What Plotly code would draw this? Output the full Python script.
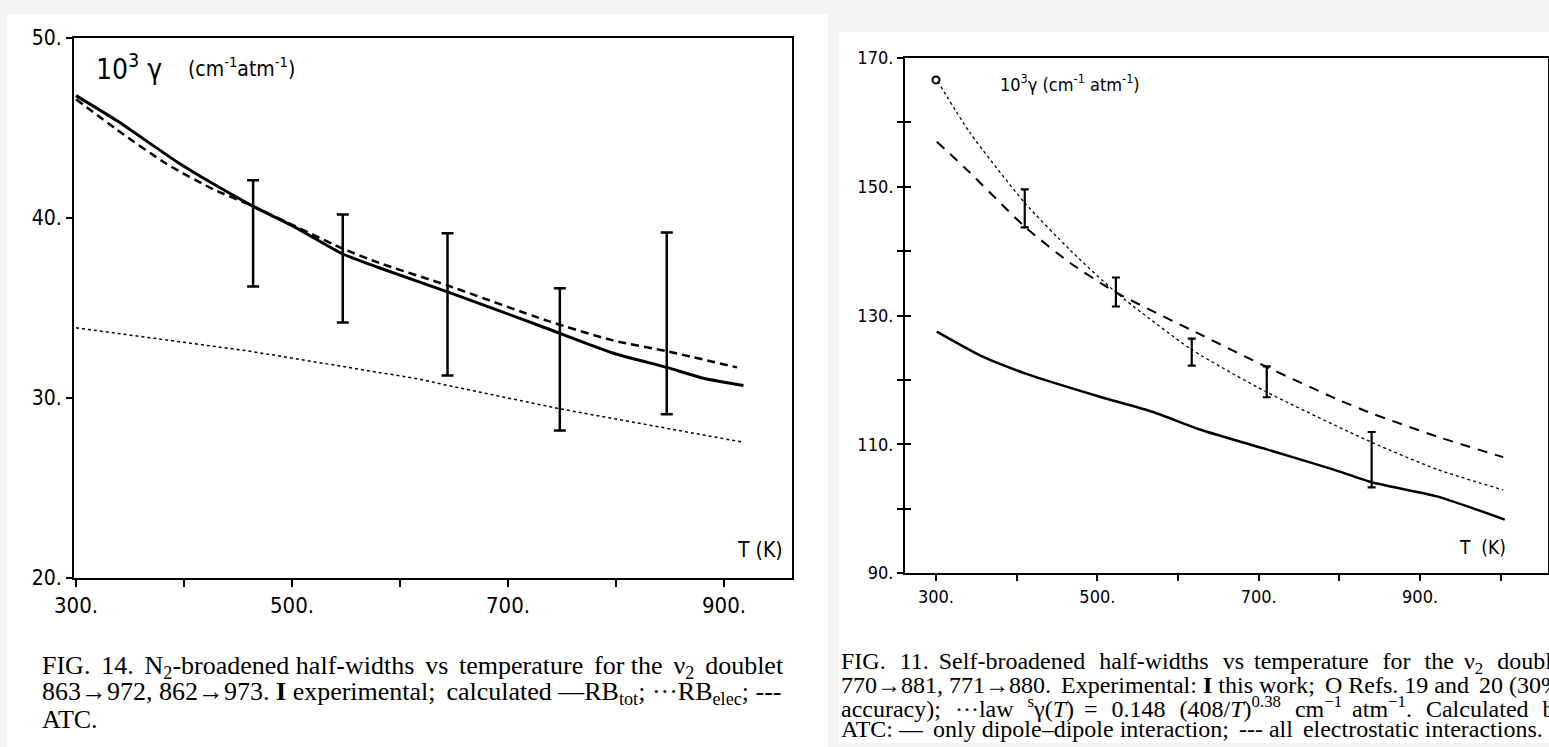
import plotly.graph_objects as go

W, H = 1549, 747

# ---------------- FIG. 14 : N2-broadened half-widths ----------------
t_rb_tot = [300, 338, 394, 427, 464, 501, 547, 580, 644, 730, 797, 847, 881, 918]
g_rb_tot = [46.8, 45.4, 43.1, 41.9, 40.65, 39.55, 38.0, 37.25, 35.9, 34.0, 32.5, 31.7, 31.1, 30.7]

t_atc14 = [300, 338, 384, 427, 464, 547, 581, 644, 736, 797, 847, 912]
g_atc14 = [46.6, 44.9, 43.0, 41.6, 40.65, 38.3, 37.5, 36.25, 34.3, 33.2, 32.6, 31.7]

t_rb_elec = [300, 461, 618, 644, 748, 847, 917]
g_rb_elec = [33.9, 32.6, 31.05, 30.7, 29.4, 28.3, 27.55]

t_exp14 = [464, 547, 644, 748, 847]
lo_exp14 = [36.2, 34.2, 31.25, 28.2, 29.1]
hi_exp14 = [42.1, 40.2, 39.15, 36.1, 39.2]

ticks14_x = [300, 400, 500, 600, 700, 800, 900]
labels14_x = ["300.", "", "500.", "", "700.", "", "900."]
ticks14_y = [20, 30, 40, 50]
labels14_y = ["20.", "30.", "40.", "50."]

# ---------------- FIG. 11 : self-broadened half-widths ----------------
t_dip = [301, 358, 413, 500, 569, 627, 710, 792, 840, 921, 1005]
g_dip = [127.5, 123.6, 120.9, 117.5, 115.0, 112.3, 109.2, 106.1, 104.1, 101.9, 98.3]

t_elst = [301, 342, 410, 466, 523, 627, 710, 797, 840, 921, 1003]
g_elst = [157.0, 152.2, 143.8, 138.2, 133.6, 127.1, 122.0, 117.0, 114.8, 111.2, 108.0]

t_law = [302, 342, 410, 466, 523, 617, 710, 840, 921, 1003]
g_law = [166.4, 158.4, 147.5, 140.2, 133.6, 124.7, 118.1, 110.3, 106.1, 102.9]

t_exp11 = [410, 523, 617, 710, 840]
lo_exp11 = [143.7, 131.4, 122.2, 117.3, 103.3]
hi_exp11 = [149.6, 135.9, 126.4, 122.1, 111.9]

t_ref = [300]
g_ref = [166.6]

ticks11_x = [300, 400, 500, 600, 700, 800, 900, 1000]
labels11_x = ["300.", "", "500.", "", "700.", "", "900.", ""]
ticks11_y = [90, 100, 110, 120, 130, 140, 150, 160, 170]
labels11_y = ["90.", "", "110.", "", "130.", "", "150.", "", "170."]
inner11_y = [100, 110, 120, 130, 140, 150, 160]

AX_FONT = "DejaVu Sans Condensed, DejaVu Sans, sans-serif"
CAP_FONT = "Liberation Serif, Times New Roman, serif"
SIXTH_EM = "\u2006"


def fx(p):
    return p / W


def fy(p):
    return 1 - p / H


def widen(text, units):
    """Spread `units` sixth-em spaces evenly over the word gaps (justified look)."""
    if not units:
        return text
    words = text.split(" ")
    gaps = len(words) - 1
    counts = [0] * gaps
    for j in range(units):
        counts[int((j + 0.5) * gaps / units) % gaps] += 1
    out = words[0]
    for g in range(gaps):
        out += " " + SIXTH_EM * counts[g] + words[g + 1]
    return out


def exp_bars(t, lo, hi, xa, ya, cap, thick):
    mid = [(a + b) / 2 for a, b in zip(lo, hi)]
    half = [(b - a) / 2 for a, b in zip(lo, hi)]
    return go.Scatter(
        x=t, y=mid, mode="markers", xaxis=xa, yaxis=ya,
        marker=dict(size=2, color="rgba(0,0,0,0)"),
        error_y=dict(type="data", array=half, symmetric=True,
                     color="black", thickness=thick, width=cap),
        showlegend=False, hoverinfo="skip",
    )


fig = go.Figure()

# FIG. 14 curves
fig.add_trace(go.Scatter(x=t_rb_elec, y=g_rb_elec, mode="lines", xaxis="x", yaxis="y",
                         line=dict(color="black", width=1.5, dash="dot"), showlegend=False))
fig.add_trace(go.Scatter(x=t_atc14, y=g_atc14, mode="lines", xaxis="x", yaxis="y",
                         line=dict(color="black", width=2.5, dash="8px,5px", shape="spline", smoothing=0.6),
                         showlegend=False))
fig.add_trace(go.Scatter(x=t_rb_tot, y=g_rb_tot, mode="lines", xaxis="x", yaxis="y",
                         line=dict(color="black", width=3, shape="spline", smoothing=0.6), showlegend=False))
fig.add_trace(exp_bars(t_exp14, lo_exp14, hi_exp14, "x", "y", 6, 2.5))

# FIG. 11 curves
fig.add_trace(go.Scatter(x=t_law, y=g_law, mode="lines", xaxis="x2", yaxis="y2",
                         line=dict(color="black", width=1.3, dash="dot", shape="spline", smoothing=0.6),
                         showlegend=False))
fig.add_trace(go.Scatter(x=t_elst, y=g_elst, mode="lines", xaxis="x2", yaxis="y2",
                         line=dict(color="black", width=2, dash="10px,8px", shape="spline", smoothing=0.6),
                         showlegend=False))
fig.add_trace(go.Scatter(x=t_dip, y=g_dip, mode="lines", xaxis="x2", yaxis="y2",
                         line=dict(color="black", width=2.5, shape="spline", smoothing=0.6), showlegend=False))
fig.add_trace(exp_bars(t_exp11, lo_exp11, hi_exp11, "x2", "y2", 4, 2.2))
fig.add_trace(go.Scatter(x=t_ref, y=g_ref, mode="markers", xaxis="x2", yaxis="y3",
                         marker=dict(symbol="circle-open", size=7, color="black", line=dict(width=2)),
                         showlegend=False))

line_common = dict(showline=True, linecolor="black", mirror=True, showgrid=False,
                   zeroline=False, tickcolor="black", tickmode="array", automargin=False)

fig.update_layout(
    width=W, height=H,
    margin=dict(l=0, r=0, t=0, b=0, autoexpand=False),
    paper_bgcolor="#f3f3f3",
    plot_bgcolor="white",
    xaxis=dict(domain=[fx(74), fx(792)], range=[298.15, 962.96], anchor="y",
               tickvals=ticks14_x, ticktext=labels14_x, ticks="outside", ticklen=7, tickwidth=2,
               linewidth=2, tickfont=dict(family=AX_FONT, size=22, color="black"), **line_common),
    yaxis=dict(domain=[fy(578), fy(38)], range=[20, 50], anchor="x",
               tickvals=ticks14_y, ticktext=labels14_y, ticks="outside", ticklen=6, tickwidth=2,
               linewidth=2, tickfont=dict(family=AX_FONT, size=21, color="black"), **line_common),
    xaxis2=dict(domain=[fx(905), fx(1548)], range=[261.6, 1058.6], anchor="y2",
                tickvals=ticks11_x, ticktext=labels11_x, ticks="outside", ticklen=6, tickwidth=2,
                linewidth=2, tickfont=dict(family=AX_FONT, size=18, color="black"), **line_common),
    yaxis2=dict(domain=[fy(573), fy(58)], range=[90, 170], anchor="x2",
                tickvals=ticks11_y, ticktext=labels11_y, ticks="outside", ticklen=6, tickwidth=2,
                linewidth=2, tickfont=dict(family=AX_FONT, size=18, color="black"), **line_common),
    yaxis3=dict(overlaying="y2", anchor="x2", range=[90, 170], tickmode="array",
                tickvals=inner11_y, ticks="inside", ticklen=6, tickwidth=2, tickcolor="black",
                showticklabels=False, showline=False, showgrid=False, zeroline=False, automargin=False),
    shapes=[
        dict(type="rect", xref="paper", yref="paper", x0=fx(7), x1=fx(828), y0=fy(747), y1=fy(14),
             fillcolor="white", line=dict(width=0), layer="below"),
        dict(type="rect", xref="paper", yref="paper", x0=fx(839), x1=fx(1549), y0=fy(743), y1=fy(32),
             fillcolor="white", line=dict(width=0), layer="below"),
    ],
)

annotations = [
    # axis titles, FIG. 14
    dict(x=fx(94), y=fy(67), text="10<sup>3</sup> γ",
         font=dict(family=AX_FONT, size=28, color="black")),
    dict(x=fx(186), y=fy(67), text="(cm<sup>-1</sup>atm<sup>-1</sup>)",
         font=dict(family=AX_FONT, size=21, color="black")),
    dict(x=fx(785), y=fy(550), text="T (K)", xanchor="right",
         font=dict(family=AX_FONT, size=21, color="black")),
    # axis titles, FIG. 11
    dict(x=fx(998), y=fy(83), text="10<sup>3</sup>γ (cm<sup>-1</sup> atm<sup>-1</sup>)",
         font=dict(family=AX_FONT, size=18, color="black")),
    dict(x=fx(1508), y=fy(547), text="T  (K)", xanchor="right",
         font=dict(family=AX_FONT, size=19, color="black")),
]

cap14 = [
    "FIG. 14. N<sub>2</sub>-broadened half-widths vs temperature for the ν<sub>2</sub> doublet",
    "863→972, 862→973. <b>I</b> experimental; calculated —RB<sub>tot</sub>; ···RB<sub>elec</sub>; ---",
    "ATC.",
]
cap14_units = [7, 1, 0]

cap11 = [
    "FIG. 11. Self-broadened half-widths vs temperature for the ν<sub>2</sub> doublet",
    "770→881, 771→880. Experimental: <b>I</b> this work; O Refs. 19 and 20 (30%",
    "accuracy); ···law <sup>s</sup>γ(<i>T</i>) = 0.148 (408/<i>T</i>)<sup>0.38</sup> cm<sup>−1</sup> atm<sup>−1</sup>. Calculated by",
    "ATC: — only dipole–dipole interaction; --- all electrostatic interactions.",
]
cap11_units = [15, 3, 16, 3]

for i, (line, u) in enumerate(zip(cap14, cap14_units)):
    annotations.append(dict(x=fx(40), y=fy(667 + 26 * i), text=widen(line, u),
                            font=dict(family=CAP_FONT, size=26, color="black")))
for i, (line, u) in enumerate(zip(cap11, cap11_units)):
    annotations.append(dict(x=fx(839), y=fy(663 + 22 * i), text=widen(line, u),
                            font=dict(family=CAP_FONT, size=24, color="black")))

for a in annotations:
    a.setdefault("xanchor", "left")
    a.update(xref="paper", yref="paper", yanchor="middle", showarrow=False)

fig.update_layout(annotations=annotations)

fig.write_html("out.html", config={"displayModeBar": False})
